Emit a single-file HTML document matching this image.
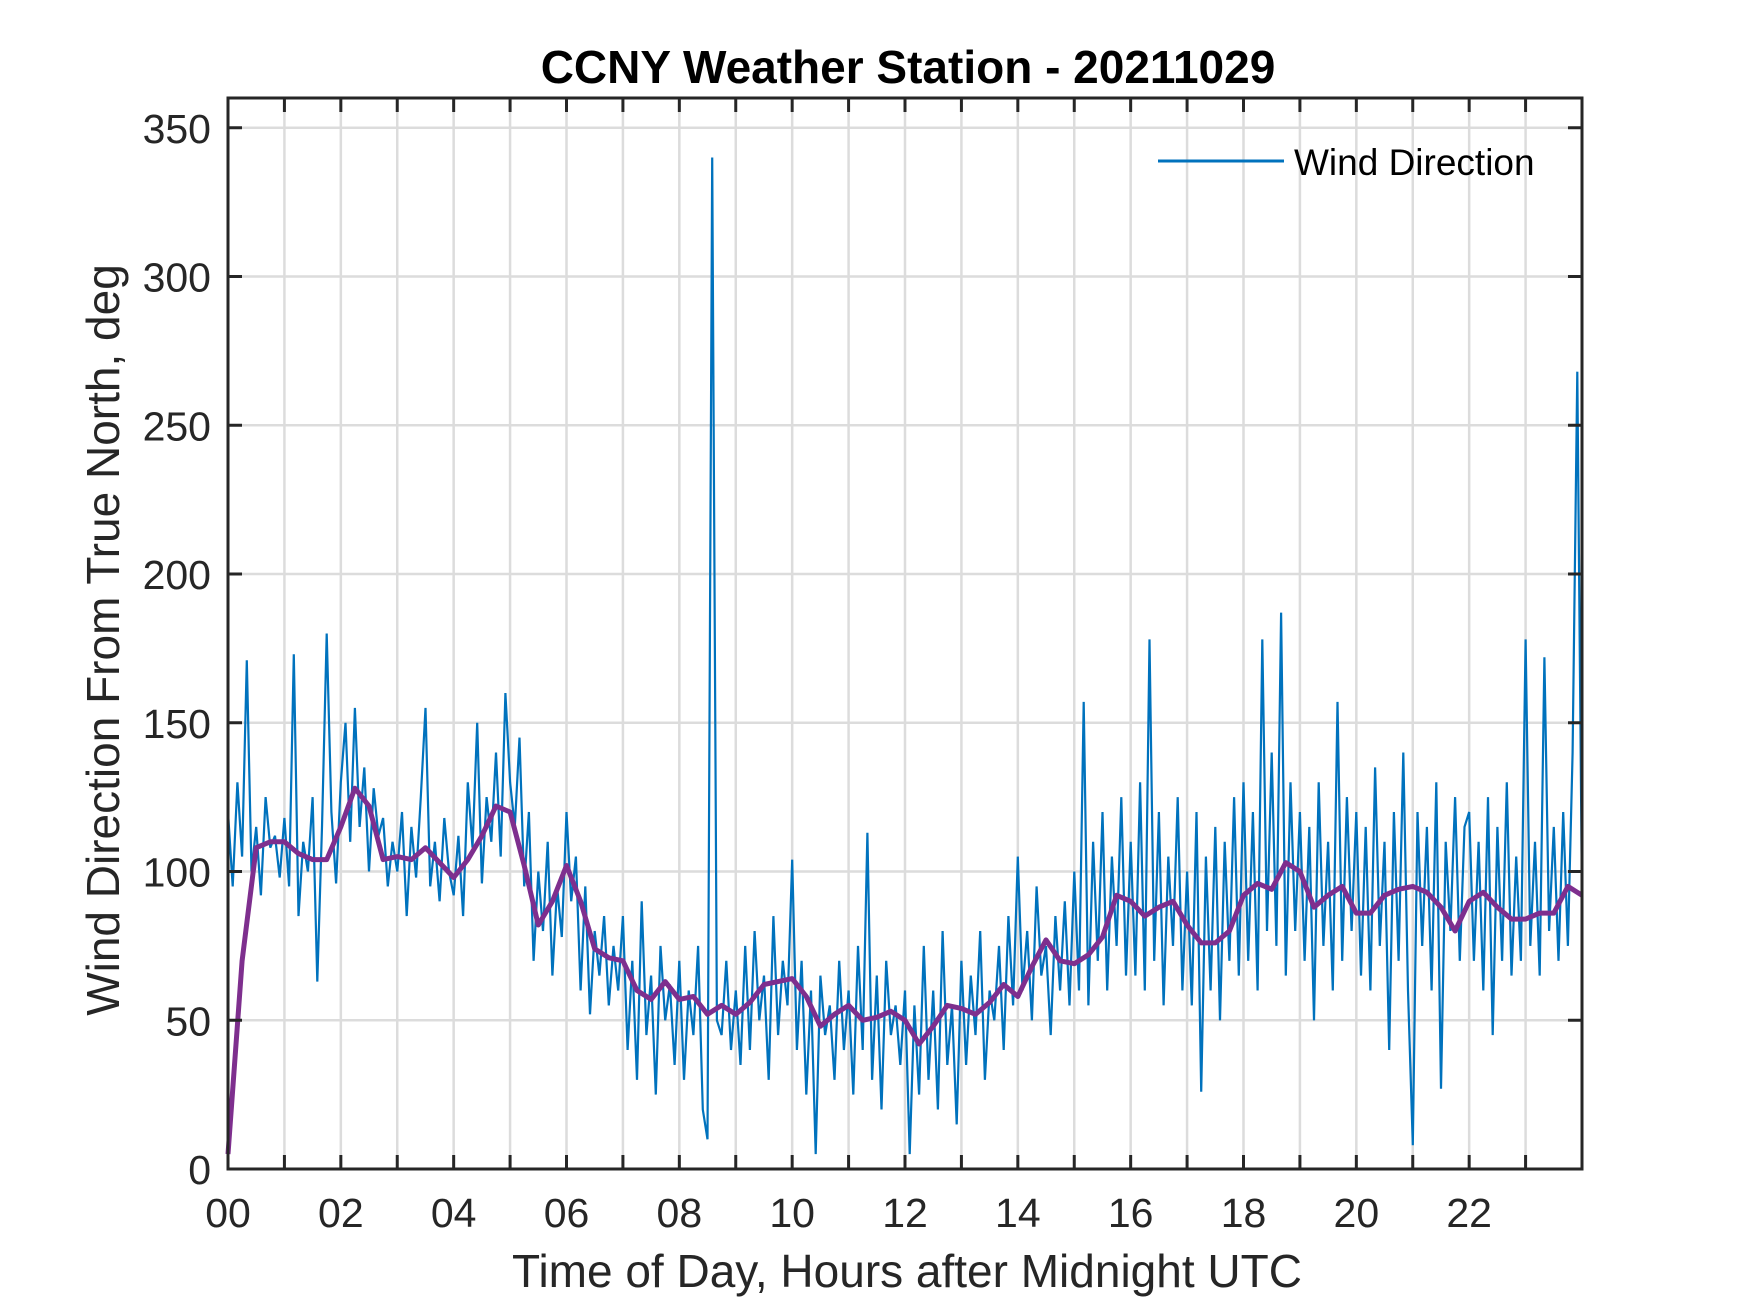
<!DOCTYPE html>
<html><head><meta charset="utf-8"><style>
html,body{margin:0;padding:0;background:#fff;}
svg{display:block;font-family:"Liberation Sans",Arial,sans-serif;}
</style></head><body>
<svg id="chart" width="1750" height="1313" viewBox="0 0 1750 1313" xmlns="http://www.w3.org/2000/svg">
<rect width="1750" height="1313" fill="#fff"/>
<g id="grid"></g>
<g id="series"></g>
<rect x="228" y="98" width="1354" height="1071" fill="none" stroke="#262626" stroke-width="3"/>
<g id="ticks"></g>
<text x="908" y="83" text-anchor="middle" font-size="46" font-weight="bold" fill="#000">CCNY Weather Station - 20211029</text>
<text x="907" y="1287" text-anchor="middle" font-size="46" fill="#262626">Time of Day, Hours after Midnight UTC</text>
<text transform="translate(119,640) rotate(-90)" text-anchor="middle" font-size="46" fill="#262626">Wind Direction From True North, deg</text>
<g>
<line x1="1158" y1="161" x2="1284" y2="161" stroke="#0072BD" stroke-width="3"/>
<text x="1294" y="175" font-size="37" fill="#000">Wind Direction</text>
</g>
</svg>
<script>
const xTicks = [0,2,4,6,8,10,12,14,16,18,20,22];
const xTickLabels = ["00","02","04","06","08","10","12","14","16","18","20","22"];
const yTicks = [0,50,100,150,200,250,300,350];
const yTickLabels = ["0","50","100","150","200","250","300","350"];
// Raw wind direction, 5-minute samples from 00:00
const windRaw = [
120,95,130,105,171,100,115,92,125,108,112,98,
118,95,173,85,110,100,125,63,115,180,120,96,
130,150,110,155,115,135,100,128,112,118,95,110,
100,120,85,115,98,125,155,95,110,90,118,100,
92,112,85,130,108,150,96,125,110,140,105,160,
130,115,145,95,120,70,100,80,110,65,95,78,
120,90,105,60,95,52,80,65,85,55,75,60,
85,40,70,30,90,45,65,25,75,50,62,35,
70,30,60,45,75,20,10,340,50,45,70,40,
60,35,75,40,80,50,65,30,85,45,70,55,
104,40,70,25,60,5,65,45,55,30,70,40,
60,25,75,40,113,30,65,20,70,45,55,35,
60,5,55,25,75,30,60,20,80,35,55,15,
70,35,65,45,80,30,60,50,75,40,85,55,
105,60,80,50,95,65,75,45,85,60,90,55,
100,60,157,55,110,70,120,60,105,75,125,65,
110,65,130,60,178,70,120,55,105,75,125,60,
100,55,120,26,105,60,115,50,110,70,125,65,
130,70,120,60,178,80,140,75,187,65,130,80,
120,70,115,50,130,75,110,60,157,70,125,80,
120,65,115,60,135,75,110,40,120,70,140,60,
8,120,75,115,60,130,27,110,80,125,70,115,
120,70,110,60,125,45,115,70,130,65,105,70,
178,75,110,65,172,80,115,70,120,75,140,268,
90];
// Smoothed wind direction, 15-minute samples from 00:00
const windSmooth = [
5,70,108,110,110,106,104,104,115,128,122,104,105,104,108,103,
98,104,112,122,120,102,82,90,102,90,74,71,70,60,57,63,
57,58,52,55,52,56,62,63,64,58,48,52,55,50,51,53,
50,42,48,55,54,52,56,62,58,68,77,70,69,72,78,92,
90,85,88,90,82,76,76,80,92,96,94,103,100,88,92,95,
86,86,92,94,95,93,88,80,90,93,88,84,84,86,86,95,92];

const NS='http://www.w3.org/2000/svg';
const X0=228,X1=1582,Y0=1169,Y1=98;
const xs=h=>X0+(h/24)*(X1-X0);
const ys=v=>Y0-(v/360)*(Y0-Y1);
function mk(tag,attrs,parent){const e=document.createElementNS(NS,tag);for(const k in attrs)e.setAttribute(k,attrs[k]);parent.appendChild(e);return e;}
const grid=document.getElementById('grid'),ticks=document.getElementById('ticks'),series=document.getElementById('series');
for(let h=1;h<24;h++){
  const g=mk('line',{x1:xs(h),x2:xs(h),y1:Y1,y2:Y0,stroke:'#dcdcdc','stroke-width':2.5},grid);
  
  
  const t1=mk('line',{x1:xs(h),x2:xs(h),y1:Y0,y2:Y0-14,stroke:'#262626','stroke-width':3},ticks);
  
  
  const t2=mk('line',{x1:xs(h),x2:xs(h),y1:Y1,y2:Y1+14,stroke:'#262626','stroke-width':3},ticks);
  
  
}
xTicks.forEach((h,i)=>{
  const t=mk('text',{x:xs(h),y:1227,'text-anchor':'middle','font-size':41,fill:'#262626'},ticks);
  t.textContent=xTickLabels[i];
  
  
});
yTicks.forEach((v,i)=>{
  if(v>0){
    const g=mk('line',{x1:X0,x2:X1,y1:ys(v),y2:ys(v),stroke:'#dcdcdc','stroke-width':2.5},grid);
    
    
  }
  const a=mk('line',{x1:X0,x2:X0+14,y1:ys(v),y2:ys(v),stroke:'#262626','stroke-width':3},ticks);
  
  
  const b=mk('line',{x1:X1,x2:X1-14,y1:ys(v),y2:ys(v),stroke:'#262626','stroke-width':3},ticks);
  
  
  const t=mk('text',{x:211,y:ys(v)+15,'text-anchor':'end','font-size':41,fill:'#262626'},ticks);
  t.textContent=yTickLabels[i];
  
  
});
const rawPts=windRaw.map((v,i)=>xs(i*5/60).toFixed(1)+','+ys(v).toFixed(1)).join(' ');
const raw=mk('polyline',{points:rawPts,fill:'none',stroke:'#0072BD','stroke-width':2.2,'stroke-linejoin':'miter'},series);


const smPts=windSmooth.map((v,i)=>xs(i*15/60).toFixed(1)+','+ys(v).toFixed(1)).join(' ');
const sm=mk('polyline',{points:smPts,fill:'none',stroke:'#7E2F8E','stroke-width':5,'stroke-linejoin':'round'},series);


</script>
</body></html>
